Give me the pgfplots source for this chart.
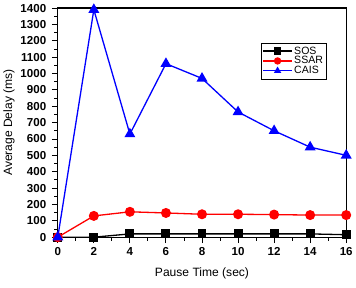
\documentclass[border=0pt]{standalone}
\usepackage{pgfplots}
\pgfplotsset{compat=1.18}
\usepackage{fontspec}
\setmainfont{Liberation Sans}
\begin{document}
\begin{tikzpicture}
\begin{axis}[
  scale only axis,
  width=287pt, height=228pt,
  xmin=0, xmax=16, ymin=0, ymax=1400,
  xtick={0,2,...,16}, ytick={0,100,...,1400},
  minor x tick num=1, minor y tick num=1,
  tick align=outside,
  xtick pos=bottom, ytick pos=left,
  major tick length=6pt, minor tick length=3.5pt,
  tick style={black, line width=0.9pt},
  axis line style={line width=1.2pt},
  /pgf/number format/assume math mode=true,
  ticklabel style={font=\fontsize{11.5}{12}\selectfont\bfseries},
  yticklabel style={xshift=-2pt},
  xticklabel style={yshift=-1pt},
  /pgf/number format/1000 sep={},
  xlabel={Pause Time (sec)}, ylabel={Average Delay (ms)},
  label style={font=\fontsize{12}{13}\selectfont},
  xlabel style={yshift=-5pt},
  ylabel style={yshift=-1pt},
  legend style={at={(0.705,0.848)}, anchor=north west, draw=black, line width=0.5pt,
    font=\fontsize{10.5}{10.5}\selectfont, inner sep=1.5pt, row sep=-3pt,
    /tikz/every even column/.append style={column sep=1pt}},
  legend cell align=left,
  legend image code/.code={\draw[#1, line width=1.2pt] (0pt,0pt) -- (28pt,0pt); \draw[#1, mark size=3pt, only marks] plot coordinates {(14pt,0pt)};},
]
\addplot[black, line width=1.3pt, mark=square*, mark size=3.8pt] coordinates {
(0,0) (2,0) (4,20) (6,20) (8,20) (10,20) (12,20) (14,20) (16,15)};
\addlegendentry{SOS}
\addplot[red, line width=1.3pt, mark=*, mark size=4.3pt] coordinates {
(0,0) (2,130) (4,155) (6,148) (8,140) (10,140) (12,138) (14,135) (16,135)};
\addlegendentry{SSAR}
\addplot[blue, line width=1.3pt, mark=triangle*, mark size=5pt] coordinates {
(0,0) (2,1390) (4,630) (6,1060) (8,970) (10,765) (12,650) (14,550) (16,500)};
\addlegendentry{CAIS}
\path (rel axis cs:0,0) ++(0,-50pt) coordinate (bb1);
\path (rel axis cs:1,1) ++(8pt,8pt) coordinate (bb2);
\end{axis}
\path (bb1) -- (bb2);
\end{tikzpicture}
\end{document}
